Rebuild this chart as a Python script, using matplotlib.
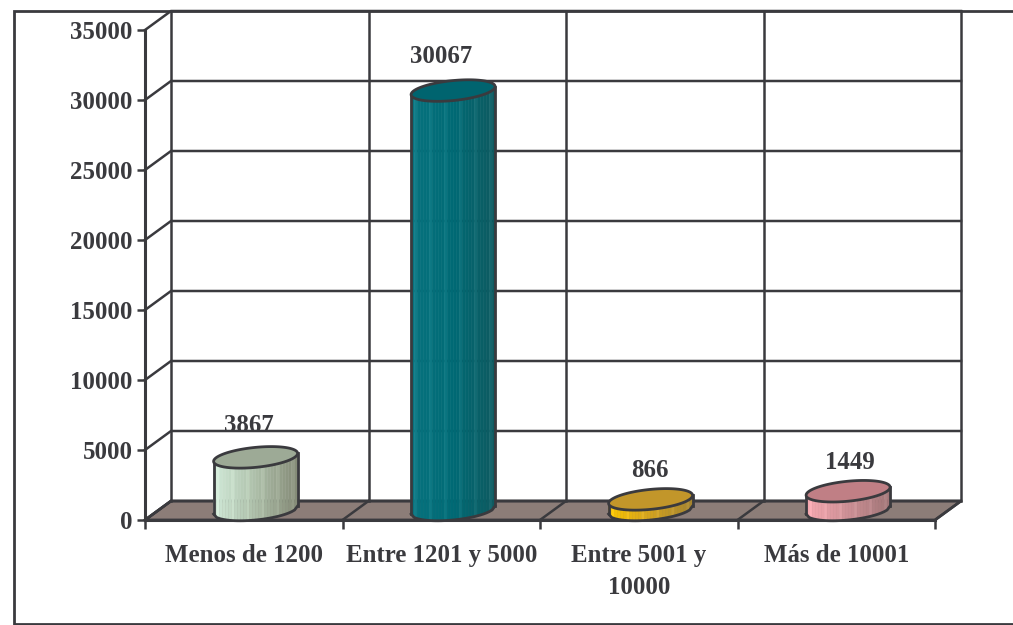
import numpy as np
import matplotlib.pyplot as plt
from matplotlib.colors import LinearSegmentedColormap
from matplotlib.lines import Line2D
from matplotlib.patches import Polygon

# Define data.
categories = ['Menos de 1200', 'Entre 1201 y 5000', 'Entre 5001 y\n10000', 'Más de 10001']
values = [3867, 30067, 866, 1449]
y_ticks = [0, 5000, 10000, 15000, 20000, 25000, 30000, 35000]

# Bar colours: left, middle and right of the side, then the top.
side_colors = [['#cfe8d6', '#adbfa9', '#858c78'],
               ['#07727e', '#006a75', '#0d5a60'],
               ['#f8c400', '#d2a21e', '#a5842e'],
               ['#f6a8b0', '#cc8f95', '#a27678']]
top_colors = ['#9daa96', '#00646f', '#c2962a', '#c07f85']
label_offsets = [(-7, 32), (-12, 34), (-1, 29), (2, 29)]

dark = '#3a3a3e'
floor_color = '#8c7d78'
W, H = 1013, 625
plt.rcParams['font.family'] = ['Liberation Serif', 'DejaVu Serif']
plt.rcParams['font.weight'] = 'bold'

# Make plot. The axes is the front plane of the 3D box.
fig = plt.figure(figsize=(W / 100, H / 100), dpi=100)
ax = fig.add_axes([145 / W, 1 - 520 / H, 790 / W, 490 / H])
ax.set_xlim(0, 4)
ax.set_ylim(0, 35000)
ax.patch.set_visible(False)

# Size of one pixel in data units.
px = 4 / 790
py = 35000 / 490
depth_x = 26 * px
depth_y = 19 * py

# Walls and floor.
ax.add_patch(Polygon([(0, 0), (4, 0), (4 + depth_x, depth_y), (depth_x, depth_y)],
                     closed=True, fc=floor_color, ec=dark, lw=2.0, clip_on=False, zorder=1))
for v in y_ticks:
    ax.plot([0, depth_x, 4 + depth_x], [v, v + depth_y, v + depth_y], color=dark, lw=1.8,
            clip_on=False, zorder=1.5, solid_joinstyle='miter')
for i in range(5):
    ax.plot([i + depth_x, i + depth_x], [depth_y, 35000 + depth_y], color=dark, lw=1.8,
            clip_on=False, zorder=1.5)
    ax.plot([i, i + depth_x], [0, depth_y], color=dark, lw=1.8, clip_on=False, zorder=1.5)

# Cylinders.
a = 42 * px
b = 10 * py
skew = 4 * py
base = 10 * py
top_drop = 1.5 * py
for i, v in enumerate(values):
    cx = i + 0.56
    h = v - top_drop
    cmap = LinearSegmentedColormap.from_list('side', side_colors[i])
    xs = np.linspace(-1, 1, 29)
    low = base + skew * xs - b * np.sqrt(1 - xs ** 2)
    for k in range(len(xs) - 1):
        shade = cmap(k / 27)
        # Thin lighter stripes, as on the original fills.
        if k % 5 == 1:
            shade = tuple(min(1, c + 0.04) for c in shade[:3])
        ax.fill([cx + a * xs[k], cx + a * xs[k + 1], cx + a * xs[k + 1], cx + a * xs[k]],
                [low[k], low[k + 1], low[k + 1] + h, low[k] + h],
                color=shade, lw=0.3, clip_on=False, zorder=3)
    ax.plot(cx + a * xs, low, color=dark, lw=2.0, clip_on=False, zorder=4)
    ax.plot([cx - a, cx - a], [base - skew, base - skew + h], color=dark, lw=2.0, clip_on=False, zorder=4)
    ax.plot([cx + a, cx + a], [base + skew, base + skew + h], color=dark, lw=2.0, clip_on=False, zorder=4)
    t = np.linspace(0, 2 * np.pi, 120)
    ax.fill(cx + a * np.cos(t), base + h + skew * np.cos(t) + b * np.sin(t), fc=top_colors[i],
            ec=dark, lw=2.0, clip_on=False, zorder=5)
    ax.text(cx + label_offsets[i][0] * px, base + h + label_offsets[i][1] * py, str(v), ha='center',
            va='center', fontsize=17.9, fontweight='bold', color=dark, zorder=6)

# Axes, ticks and labels.
for side in ['top', 'right']:
    ax.spines[side].set_visible(False)
for side in ['left', 'bottom']:
    ax.spines[side].set_color(dark)
    ax.spines[side].set_linewidth(2.2)
    ax.spines[side].set_zorder(2)
ax.set_yticks(y_ticks)
ax.set_xticks(range(5))
ax.set_xticklabels([])
ax.set_xticks([i + 0.5 for i in range(4)], minor=True)
ax.set_xticklabels(categories, minor=True, linespacing=1.5)
ax.tick_params(axis='y', length=6, width=1.8, color=dark, labelsize=17.9, labelcolor=dark, pad=3)
ax.tick_params(axis='x', which='major', length=6.5, width=1.8, color=dark, direction='out')
ax.tick_params(axis='x', which='minor', length=0, labelsize=17.9, labelcolor=dark, pad=17)

# Outer border runs off the right edge.
border_x = [1, 13.5 / W, 13.5 / W, 1]
border_y = [1 - 10.5 / H, 1 - 10.5 / H, 1 - 624 / H, 1 - 624 / H]
fig.add_artist(Line2D(border_x, border_y, color=dark, lw=2.0, transform=fig.transFigure,
                      solid_joinstyle='miter', zorder=0))

plt.savefig('out.png', dpi=100)
